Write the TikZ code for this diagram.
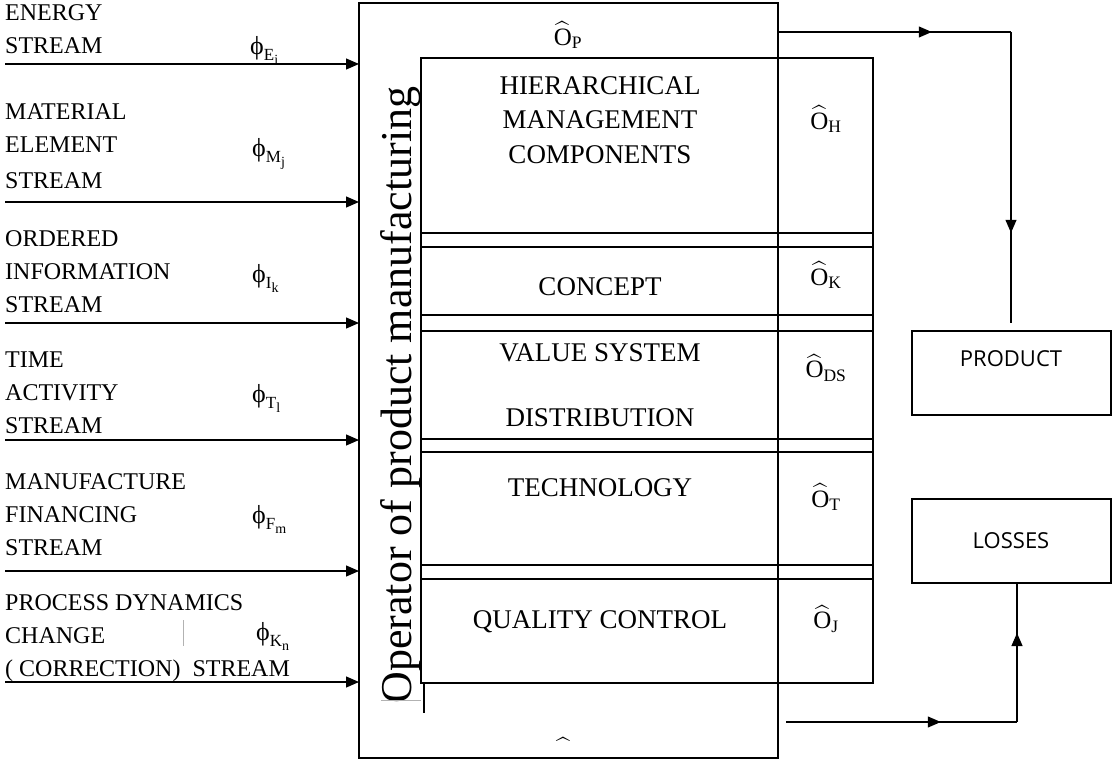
\documentclass[tikz,border=0pt]{standalone}
\usepackage{amsmath}
\usepackage{fontspec}
\setmainfont{Liberation Serif}
\newfontfamily\boxfont{Open Sans}
\usetikzlibrary{arrows.meta, positioning, decorations.markings}

\newcommand{\flowname}[2]{ϕ\raisebox{-6pt}{\fontsize{17}{17}\selectfont #1\raisebox{-4pt}{\fontsize{14}{14}\selectfont #2}}}

\begin{document}
\begin{tikzpicture}[x=1pt,y=-1pt,>={Triangle[length=13pt,width=11pt]},
        opbox/.style={draw, line width=2pt, inner sep=0pt, outer sep=0pt},
        cell/.style={draw, line width=2pt, inner sep=0pt, outer sep=0pt, minimum height=625pt},
        outbox/.style={draw, line width=2pt, outer sep=0pt, minimum width=199pt, minimum height=84pt,
            font=\boxfont\fontsize{22}{26}\selectfont},
        stream/.style={anchor=base west, align=left, inner sep=0pt, font=\fontsize{24}{33}\selectfont},
        flowsym/.style={anchor=base west, inner sep=0pt, font=\fontsize{26}{28}\selectfont},
        unit/.style={align=center, font=\fontsize{27}{34.5}\selectfont},
        opsym/.style={font=\fontsize{25}{28}\selectfont},
        link/.style={line width=1.2pt},
        midarrow/.style={postaction={decorate},
            decoration={markings, mark=at position #1 with {\arrow{>}}}}]

    \useasboundingbox (0,0) rectangle (1113,762);

    % operator and its units
    \node[opbox, minimum width=419pt, minimum height=755pt] (oper) at (568.5,380.5) {};
    \node[cell, minimum width=357pt] (core) at (599.5,370.5) {};
    \node[cell, minimum width=95pt, right=0pt of core] (ops) {};
    \foreach \y in {233,247,315,331,439,452,565,579}
        \draw[link] (core.west |- 0,\y) -- (ops.east |- 0,\y);

    \node[rotate=90, font=\fontsize{44}{50}\selectfont] (opname) at (401,395) {Operator of product manufacturing};

    \node[unit] (hier) at (600,120) {HIERARCHICAL\\MANAGEMENT\\COMPONENTS};
    \node[unit] (concept) at (600,287) {CONCEPT};
    \node[unit] (value) at (600,385) {VALUE SYSTEM\\[31pt]DISTRIBUTION};
    \node[unit] (tech) at (600,488) {TECHNOLOGY};
    \node[unit] (quality) at (600,622) {QUALITY CONTROL};

    \node[opsym] (oP) at (568,35) {$\widehat{\mathrm{O}}_{\mathrm{P}}$};
    \node[opsym] (oH) at (826,119) {$\widehat{\mathrm{O}}_{\mathrm{H}}$};
    \node[opsym] (oK) at (826,275) {$\widehat{\mathrm{O}}_{\mathrm{K}}$};
    \node[opsym] (oDS) at (826,368) {$\widehat{\mathrm{O}}_{\mathrm{DS}}$};
    \node[opsym] (oT) at (826,497) {$\widehat{\mathrm{O}}_{\mathrm{T}}$};
    \node[opsym] (oJ) at (826,619) {$\widehat{\mathrm{O}}_{\mathrm{J}}$};
    \node[opsym, inner sep=1pt] (oB) at (563,747) {$\widehat{\hphantom{\mathrm{O}}}$};

    % input streams
    \node[stream] (energy) at (5,54) {ENERGY\\STREAM};
    \node[stream] (material) at (5,189) {MATERIAL\\ELEMENT\\[3pt]STREAM};
    \node[stream] (ordered) at (5,312) {ORDERED\\INFORMATION\\STREAM};
    \node[stream] (time) at (5,433) {TIME\\ACTIVITY\\STREAM};
    \node[stream] (finance) at (5,555) {MANUFACTURE\\FINANCING\\STREAM};
    \node[stream] (dynamics) at (5,676) {PROCESS DYNAMICS\\CHANGE\\( CORRECTION)\ \ STREAM};

    \node[flowsym] (fE) at (250,55) {\flowname{E}{i}};
    \node[flowsym] (fM) at (252,157) {\flowname{M}{j}};
    \node[flowsym] (fI) at (252,282) {\flowname{I}{k}};
    \node[flowsym] (fT) at (252,402) {\flowname{T}{l}};
    \node[flowsym] (fF) at (252,523) {\flowname{F}{m}};
    \node[flowsym] (fK) at (256,640) {\flowname{K}{n}};

    \foreach \y/\n in {64/E,202/M,323/I,440/T,571/F,682/K} {
        \coordinate (in\n) at (5,\y);
        \draw[link,->] (in\n) -- (in\n -| oper.west);
    }

    % outputs
    \node[outbox, text height=16pt, text depth=30pt] (product) at (1011,373) {PRODUCT};
    \node[outbox, below=84pt of product] (losses) {LOSSES};

    \draw[link, midarrow=0.66] (oper.east |- 0,32) -- (product.north |- 0,32) coordinate (turnP);
    \draw[link, midarrow=0.69] (turnP) -- ([yshift=8pt]product.north);

    \coordinate (lossout) at (786,722);
    \coordinate (lossin) at ([xshift=6pt]losses.south);
    \draw[link, midarrow=0.67] (lossout) -- (lossout -| lossin) coordinate (turnL);
    \draw[link, midarrow=0.64] (turnL) -- (lossin);

    % stray strokes
    \draw[gray!60, line width=1pt] (381,700) -- (421,700);
    \draw[line width=1.2pt] ([xshift=3pt]core.south west) -- ++(0,30);
    \draw[gray!60, line width=1pt] (183,620) -- (183,646);
\end{tikzpicture}
\end{document}
